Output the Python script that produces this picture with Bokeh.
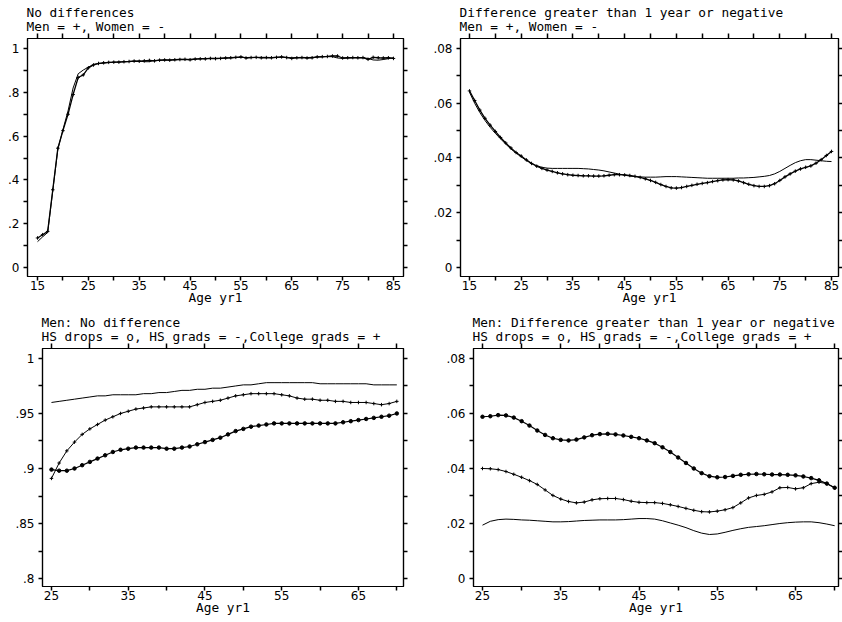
from bokeh.plotting import figure
from bokeh.models import Range1d, LinearAxis, FixedTicker, CustomJSTickFormatter, Title
from bokeh.layouts import column, row
from bokeh.embed import file_html
from bokeh.resources import INLINE

# ---------------- data ----------------
AGE_ALL = list(range(15, 86))
AGE_MEN = list(range(25, 71))

MEN_NODIFF = [0.135, 0.150, 0.165, 0.355, 0.545, 0.625, 0.700, 0.790, 0.868, 0.880,
              0.912, 0.925, 0.932, 0.935, 0.937, 0.938, 0.938, 0.940, 0.941, 0.943,
              0.942, 0.944, 0.946, 0.944, 0.947, 0.948, 0.947, 0.949, 0.950, 0.951,
              0.949, 0.952, 0.953, 0.953, 0.955, 0.954, 0.955, 0.957, 0.958, 0.960,
              0.962, 0.957, 0.959, 0.960, 0.958, 0.959, 0.958, 0.960, 0.962, 0.959,
              0.955, 0.958, 0.959, 0.957, 0.958, 0.962, 0.963, 0.964, 0.966, 0.966,
              0.957, 0.958, 0.959, 0.958, 0.959, 0.951, 0.960, 0.958, 0.957, 0.958,
              0.955]
WOMEN_NODIFF = [0.118, 0.140, 0.160, 0.350, 0.540, 0.630, 0.715, 0.820, 0.885, 0.902,
                0.915, 0.928, 0.931, 0.934, 0.936, 0.937, 0.939, 0.939, 0.941, 0.942,
                0.943, 0.940, 0.940, 0.946, 0.946, 0.948, 0.948, 0.949, 0.951, 0.950,
                0.951, 0.952, 0.954, 0.955, 0.955, 0.956, 0.956, 0.957, 0.958, 0.959,
                0.960, 0.959, 0.960, 0.959, 0.960, 0.960, 0.959, 0.960, 0.961, 0.960,
                0.958, 0.959, 0.960, 0.959, 0.960, 0.961, 0.962, 0.963, 0.963, 0.957,
                0.955, 0.957, 0.958, 0.959, 0.958, 0.955, 0.948, 0.947, 0.950, 0.954,
                0.958]
MEN_DIFF = [0.0645, 0.0610, 0.0575, 0.0545, 0.0520, 0.0497, 0.0475, 0.0455, 0.0437, 0.0420,
            0.0407, 0.0393, 0.0380, 0.0370, 0.0362, 0.0356, 0.0351, 0.0346, 0.0342, 0.0339,
            0.0337, 0.0336, 0.0335, 0.0335, 0.0334, 0.0334, 0.0335, 0.0337, 0.0339, 0.0339,
            0.0338, 0.0336, 0.0333, 0.0329, 0.0324, 0.0318, 0.0311, 0.0303, 0.0296, 0.0291,
            0.0290, 0.0292, 0.0296, 0.0300, 0.0304, 0.0307, 0.0310, 0.0314, 0.0317, 0.0320,
            0.0321, 0.0320, 0.0316, 0.0310, 0.0304, 0.0299, 0.0296, 0.0296, 0.0299, 0.0306,
            0.0318, 0.0331, 0.0342, 0.0352, 0.0360, 0.0366, 0.0371, 0.0381, 0.0394, 0.0409,
            0.0424]
WOMEN_DIFF = [0.0640, 0.0600, 0.0566, 0.0537, 0.0512, 0.0490, 0.0470, 0.0451, 0.0433, 0.0418,
              0.0404, 0.0391, 0.0380, 0.0372, 0.0366, 0.0363, 0.0362, 0.0362, 0.0362, 0.0362,
              0.0362, 0.0362, 0.0361, 0.0360, 0.0358, 0.0356, 0.0353, 0.0349, 0.0345, 0.0341,
              0.0337, 0.0334, 0.0332, 0.0331, 0.0330, 0.0330, 0.0330, 0.0331, 0.0332, 0.0332,
              0.0332, 0.0331, 0.0330, 0.0329, 0.0328, 0.0327, 0.0326, 0.0326, 0.0326, 0.0326,
              0.0326, 0.0326, 0.0327, 0.0327, 0.0328, 0.0329, 0.0331, 0.0333, 0.0336, 0.0342,
              0.0351, 0.0362, 0.0373, 0.0383, 0.0390, 0.0394, 0.0394, 0.0392, 0.0390, 0.0388,
              0.0387]

HSDROP_NODIFF = [0.899, 0.898, 0.898, 0.900, 0.903, 0.906, 0.909, 0.912, 0.915, 0.917,
                 0.918, 0.919, 0.919, 0.919, 0.919, 0.918, 0.918, 0.919, 0.920, 0.922,
                 0.924, 0.926, 0.928, 0.931, 0.934, 0.936, 0.938, 0.939, 0.940, 0.941,
                 0.941, 0.941, 0.941, 0.941, 0.941, 0.941, 0.941, 0.941, 0.942, 0.943,
                 0.944, 0.945, 0.946, 0.947, 0.948, 0.950]
COLL_NODIFF = [0.891, 0.905, 0.916, 0.924, 0.931, 0.936, 0.940, 0.944, 0.947, 0.950,
               0.952, 0.954, 0.955, 0.956, 0.956, 0.956, 0.956, 0.956, 0.956, 0.958,
               0.960, 0.961, 0.962, 0.964, 0.966, 0.967, 0.968, 0.968, 0.968, 0.968,
               0.967, 0.966, 0.964, 0.963, 0.963, 0.962, 0.962, 0.961, 0.961, 0.960,
               0.960, 0.960, 0.959, 0.958, 0.959, 0.961]
HSGRAD_NODIFF = [0.960, 0.961, 0.962, 0.963, 0.964, 0.965, 0.966, 0.966, 0.967, 0.967,
                 0.967, 0.967, 0.968, 0.968, 0.969, 0.969, 0.970, 0.971, 0.971, 0.972,
                 0.972, 0.973, 0.973, 0.974, 0.975, 0.976, 0.976, 0.977, 0.978, 0.978,
                 0.978, 0.978, 0.978, 0.978, 0.978, 0.977, 0.977, 0.977, 0.977, 0.977,
                 0.977, 0.977, 0.976, 0.976, 0.976, 0.976]

HSDROP_DIFF = [0.0588, 0.0590, 0.0594, 0.0593, 0.0585, 0.0572, 0.0556, 0.0538, 0.0522, 0.0510,
               0.0504, 0.0502, 0.0505, 0.0513, 0.0521, 0.0525, 0.0526, 0.0524, 0.0520, 0.0515,
               0.0510, 0.0502, 0.0492, 0.0477, 0.0460, 0.0440, 0.0420, 0.0400, 0.0383, 0.0372,
               0.0368, 0.0369, 0.0373, 0.0377, 0.0379, 0.0380, 0.0379, 0.0378, 0.0378, 0.0377,
               0.0375, 0.0371, 0.0365, 0.0357, 0.0345, 0.0330]
COLL_DIFF = [0.0400, 0.0399, 0.0396, 0.0389, 0.0379, 0.0368, 0.0356, 0.0342, 0.0322, 0.0302,
             0.0289, 0.0280, 0.0275, 0.0278, 0.0286, 0.0290, 0.0291, 0.0291, 0.0287, 0.0281,
             0.0277, 0.0276, 0.0276, 0.0273, 0.0268, 0.0262, 0.0255, 0.0248, 0.0243, 0.0242,
             0.0245, 0.0250, 0.0258, 0.0275, 0.0293, 0.0302, 0.0306, 0.0315, 0.0330, 0.0331,
             0.0326, 0.0330, 0.0345, 0.0350, 0.0345, 0.0330]
HSGRAD_DIFF = [0.0194, 0.0208, 0.0214, 0.0216, 0.0215, 0.0213, 0.0212, 0.0210, 0.0208, 0.0206,
               0.0206, 0.0207, 0.0209, 0.0211, 0.0212, 0.0213, 0.0213, 0.0213, 0.0214, 0.0216,
               0.0218, 0.0218, 0.0216, 0.0210, 0.0202, 0.0194, 0.0185, 0.0174, 0.0165, 0.0160,
               0.0162, 0.0168, 0.0175, 0.0181, 0.0186, 0.0189, 0.0192, 0.0196, 0.0200, 0.0203,
               0.0205, 0.0206, 0.0206, 0.0203, 0.0198, 0.0192]

# ticks
XA_TICKS = [15, 25, 35, 45, 55, 65, 75, 85]
XA_LABELS = ["15", "25", "35", "45", "55", "65", "75", "85"]
XA_MINOR = [20, 30, 40, 50, 60, 70, 80]
XM_TICKS = [25, 35, 45, 55, 65]
XM_LABELS = ["25", "35", "45", "55", "65"]
XM_MINOR = [30, 40, 50, 60, 70]
Y1_TICKS = [0.0, 0.2, 0.4, 0.6, 0.8, 1.0]
Y1_LABELS = ["0", ".2", ".4", ".6", ".8", "1"]
Y1_MINOR = [0.1, 0.3, 0.5, 0.7, 0.9]
YD_TICKS = [0.0, 0.02, 0.04, 0.06, 0.08]
YD_LABELS = ["0", ".02", ".04", ".06", ".08"]
YD_MINOR = [0.01, 0.03, 0.05, 0.07]
Y3_TICKS = [0.8, 0.85, 0.9, 0.95, 1.0]
Y3_LABELS = [".8", ".85", ".9", ".95", "1"]
Y3_MINOR = [0.825, 0.875, 0.925, 0.975]

TITLE_FONT = "DejaVu Sans Mono"
TICK_FONT = "DejaVu Sans"
FS = "12.8px"

FMT_CODE = """
const i = t.findIndex(v => Math.abs(v - tick) < 1e-9);
return i >= 0 ? l[i] : "";
"""


def style_axis(ax, ticks, minor, labels, show, tick_out=4):
    ax.ticker = FixedTicker(ticks=ticks, minor_ticks=minor)
    ax.formatter = CustomJSTickFormatter(args=dict(t=ticks, l=labels if show else [""] * len(ticks)),
                                         code=FMT_CODE)
    ax.axis_line_color = "black"
    ax.axis_line_width = 1.2
    ax.major_tick_out = tick_out
    ax.major_tick_in = 0
    ax.minor_tick_out = tick_out
    ax.minor_tick_in = 0
    ax.major_tick_line_color = "black"
    ax.minor_tick_line_color = "black"
    ax.major_tick_line_width = 1.5
    ax.minor_tick_line_width = 1.5
    ax.major_label_text_font = TICK_FONT
    ax.major_label_text_font_size = "12px"
    ax.major_label_text_color = "black"
    ax.major_label_standoff = 4 if show else 0


def make_panel(w, h, bl, br, bt, bb, xr, yr, xt, xl, xm, yt, yl, ym, titles):
    p = figure(width=w, height=h, x_range=Range1d(*xr), y_range=Range1d(*yr),
               output_backend="svg", toolbar_location=None,
               x_axis_location=None, y_axis_location=None,
               min_border_left=bl, min_border_right=br,
               min_border_top=bt, min_border_bottom=bb)
    p.grid.visible = False
    p.outline_line_color = "black"
    p.outline_line_width = 1.2
    p.background_fill_color = "white"
    p.border_fill_color = "white"

    bottom = LinearAxis(axis_label="Age yr1")
    style_axis(bottom, xt, xm, xl, True, 4)
    bottom.major_label_standoff = 0
    bottom.axis_label_standoff = -3
    bottom.axis_label_text_font = TITLE_FONT
    bottom.axis_label_text_font_size = FS
    bottom.axis_label_text_font_style = "normal"
    bottom.axis_label_text_color = "black"
    p.add_layout(bottom, "below")

    top = LinearAxis()
    style_axis(top, sorted(xt + xm), [], [""] * len(xt + xm), False, 5)
    p.add_layout(top, "above")

    left = LinearAxis()
    style_axis(left, yt, ym, yl, True, 4)
    p.add_layout(left, "left")

    right = LinearAxis()
    style_axis(right, yt, ym, yl, False, 4)
    p.add_layout(right, "right")

    p.add_layout(Title(text="\n".join(titles), align="left", offset=-1, standoff=0,
                       text_font=TITLE_FONT, text_font_size=FS, text_font_style="normal",
                       text_color="black", text_line_height=0.9), "above")
    return p


# Panel 1
p1 = make_panel(420, 310, 27, 17, 38, 34, (13.03, 86.97), (-0.041, 1.046),
                XA_TICKS, XA_LABELS, XA_MINOR, Y1_TICKS, Y1_LABELS, Y1_MINOR,
                ["No differences", "Men = +, Women = -"])
p1.line(AGE_ALL, WOMEN_NODIFF, line_color="black", line_width=1)
p1.line(AGE_ALL, MEN_NODIFF, line_color="black", line_width=1.3)
p1.scatter(AGE_ALL, MEN_NODIFF, marker="cross", size=3.5, line_color="black", line_width=1)

# Panel 2
p2 = make_panel(422, 310, 40, 4, 38, 34, (13.26, 86.35), (-0.00329, 0.08365),
                XA_TICKS, XA_LABELS, XA_MINOR, YD_TICKS, YD_LABELS, YD_MINOR,
                ["Difference greater than 1 year or negative", "Men = +, Women = -"])
p2.line(AGE_ALL, WOMEN_DIFF, line_color="black", line_width=1)
p2.line(AGE_ALL, MEN_DIFF, line_color="black", line_width=1.3)
p2.scatter(AGE_ALL, MEN_DIFF, marker="cross", size=3.5, line_color="black", line_width=1)

# Panel 3
p3 = make_panel(420, 312, 42, 17, 38, 35, (23.83, 70.87), (0.79276, 1.00905),
                XM_TICKS, XM_LABELS, XM_MINOR, Y3_TICKS, Y3_LABELS, Y3_MINOR,
                ["Men: No difference", "HS drops = o, HS grads = -,College grads = +"])
p3.line(AGE_MEN, HSGRAD_NODIFF, line_color="black", line_width=1)
p3.line(AGE_MEN, COLL_NODIFF, line_color="black", line_width=1)
p3.scatter(AGE_MEN, COLL_NODIFF, marker="cross", size=3.5, line_color="black", line_width=1)
p3.line(AGE_MEN, HSDROP_NODIFF, line_color="black", line_width=1.2)
p3.scatter(AGE_MEN, HSDROP_NODIFF, marker="circle", size=3.5, line_color="black", fill_color="black")

# Panel 4
p4 = make_panel(422, 312, 53, 4, 37, 36, (23.85, 70.49), (-0.0029, 0.08362),
                XM_TICKS, XM_LABELS, XM_MINOR, YD_TICKS, YD_LABELS, YD_MINOR,
                ["Men: Difference greater than 1 year or negative",
                 "HS drops = o, HS grads = -,College grads = +"])
p4.line(AGE_MEN, HSGRAD_DIFF, line_color="black", line_width=1)
p4.line(AGE_MEN, COLL_DIFF, line_color="black", line_width=1)
p4.scatter(AGE_MEN, COLL_DIFF, marker="cross", size=3.5, line_color="black", line_width=1)
p4.line(AGE_MEN, HSDROP_DIFF, line_color="black", line_width=1.2)
p4.scatter(AGE_MEN, HSDROP_DIFF, marker="circle", size=3.5, line_color="black", fill_color="black")

layout = column(row(p1, p2), row(p3, p4))
open("out.html", "w").write(file_html(layout, INLINE))
